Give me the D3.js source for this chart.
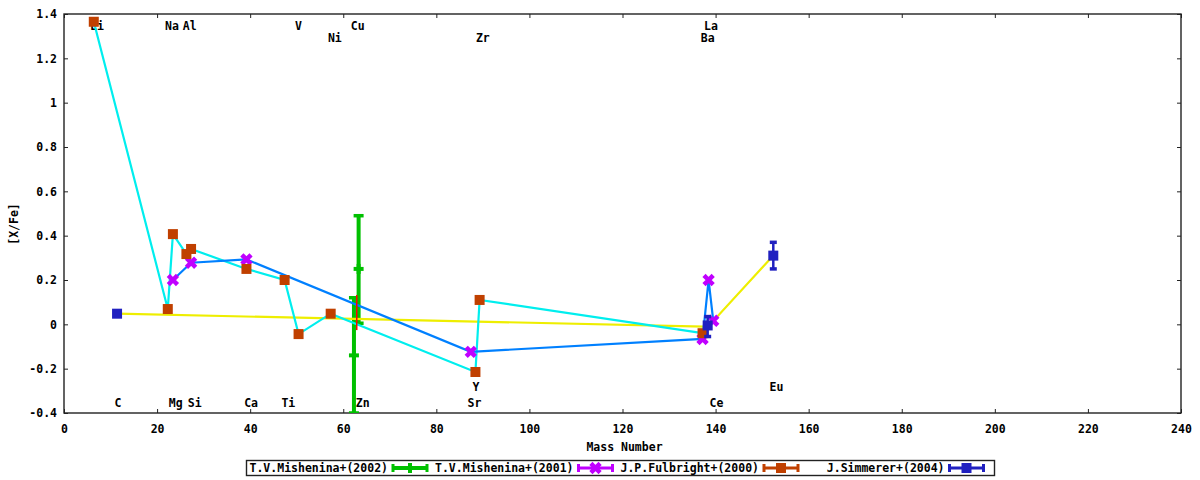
<!DOCTYPE html>
<html>
<head>
<meta charset="utf-8">
<script src="https://cdn.jsdelivr.net/npm/d3@7"></script>
<style>
  body { margin: 0; background: #fff; }
  svg text { font-family: 'DejaVu Sans Mono', monospace; font-weight: bold; font-size: 11.5px; fill: #000; }
</style>
</head>
<body>
<div id="chart"></div>
<script>
var xTicks = [0, 20, 40, 60, 80, 100, 120, 140, 160, 180, 200, 220, 240];
var yTicks = [-0.4, -0.2, 0, 0.2, 0.4, 0.6, 0.8, 1, 1.2, 1.4];

// T.V.Mishenina+(2002)
var mish02X = [62.3, 63.3];
var mish02Y = [-0.14, 0.25];
var mish02Lo = [-0.40, 0.005];
var mish02Hi = [0.12, 0.49];

// T.V.Mishenina+(2001)
var mish01X = [23.4, 27.3, 39.2, 87.4, 137.2, 138.5, 139.5];
var mish01Y = [0.20, 0.278, 0.293, -0.124, -0.066, 0.20, 0.016];

// J.P.Fulbright+(2000)
var fulbX = [6.4, 22.3, 23.4, 26.3, 27.3, 39.2, 47.4, 50.4, 57.3, 88.4, 89.3, 137.2];
var fulbY = [1.365, 0.069, 0.407, 0.317, 0.34, 0.25, 0.20, -0.044, 0.048, -0.215, 0.11, -0.04];

// J.Simmerer+(2004)
var simmX = [11.4, 138.3, 152.4];
var simmY = [0.048, -0.005, 0.31];
var simmLo = [0.048, -0.055, 0.25];
var simmHi = [0.048, 0.035, 0.37];

// yellow model line
var yellowX = [11.4, 137.5, 139.7, 152.4];
var yellowY = [0.048, -0.01, 0.02, 0.31];

// short red bar
var redX = [62.9];
var redLo = [-0.026];
var redHi = [0.132];

// element labels
var topNames = ['Li', 'Na', 'Al', 'V', 'Cu', 'Ni', 'Zr', 'La', 'Ba'];
var topX = [7.1, 23.2, 27, 50.4, 63.1, 58.2, 90, 139, 138.3];
var topY = [1.345, 1.345, 1.345, 1.345, 1.345, 1.29, 1.29, 1.345, 1.29];
var botNames = ['C', 'Mg', 'Si', 'Ca', 'Ti', 'Zn', 'Sr', 'Y', 'Ce', 'Eu'];
var botX = [11.6, 24, 28.1, 40.2, 48.2, 64.2, 88.2, 88.5, 140.2, 153.1];
var botY = [-0.355, -0.355, -0.355, -0.355, -0.355, -0.355, -0.355, -0.283, -0.355, -0.283];

var legendNames = ['T.V.Mishenina+(2002)', 'T.V.Mishenina+(2001)', 'J.P.Fulbright+(2000)', 'J.Simmerer+(2004)'];

var colors = {
  green: '#00c000',
  magenta: '#c000ff',
  orange: '#c04000',
  navy: '#2020c0',
  cyan: '#00eeee',
  blue: '#0080ff',
  yellow: '#eeee00',
  red: '#ff0000'
};

var width = 1200;
var height = 480;
var plot = {left: 64, right: 1181, top: 14, bottom: 413};

var svg = d3.select('#chart').append('svg')
  .attr('width', width)
  .attr('height', height)
  .attr('viewBox', '0 0 ' + width + ' ' + height);

var x = d3.scaleLinear().domain([0, 240]).range([plot.left, plot.right]);
var y = d3.scaleLinear().domain([-0.4, 1.4]).range([plot.bottom, plot.top]);

svg.append('defs').append('clipPath')
  .attr('id', 'plotClip')
  .append('rect')
  .attr('x', plot.left)
  .attr('y', plot.top)
  .attr('width', plot.right - plot.left)
  .attr('height', plot.bottom - plot.top);

function fmt(d) {
  return String(+d.toFixed(1));
}

function styleAxis(g) {
  g.attr('font-family', null).attr('font-size', null);
  g.select('.domain').remove();
  g.selectAll('.tick line').attr('stroke', '#222');
}

svg.append('g')
  .attr('transform', 'translate(0,' + plot.bottom + ')')
  .call(d3.axisBottom(x).tickValues(xTicks).tickFormat(fmt).tickSizeInner(-4).tickSizeOuter(0).tickPadding(12))
  .call(styleAxis);
svg.append('g')
  .attr('transform', 'translate(0,' + plot.top + ')')
  .call(d3.axisTop(x).tickValues(xTicks).tickFormat('').tickSizeInner(-4).tickSizeOuter(0))
  .call(styleAxis);
svg.append('g')
  .attr('transform', 'translate(' + plot.left + ',0)')
  .call(d3.axisLeft(y).tickValues(yTicks).tickFormat(fmt).tickSizeInner(-4).tickSizeOuter(0).tickPadding(7))
  .call(styleAxis);
svg.append('g')
  .attr('transform', 'translate(' + plot.right + ',0)')
  .call(d3.axisRight(y).tickValues(yTicks).tickFormat('').tickSizeInner(-4).tickSizeOuter(0))
  .call(styleAxis);

svg.append('rect')
  .attr('x', plot.left)
  .attr('y', plot.top)
  .attr('width', plot.right - plot.left)
  .attr('height', plot.bottom - plot.top)
  .attr('fill', 'none')
  .attr('stroke', '#222')
  .attr('stroke-width', 1.4);

svg.append('text')
  .attr('x', (plot.left + plot.right) / 2 + 2)
  .attr('y', 447)
  .attr('dy', '0.35em')
  .attr('text-anchor', 'middle')
  .text('Mass Number');

svg.append('text')
  .attr('transform', 'translate(14,' + 224 + ') rotate(-90)')
  .attr('dy', '0.35em')
  .attr('text-anchor', 'middle')
  .text('[X/Fe]');

// element labels
function drawNames(names, xs, ys) {
  svg.append('g').selectAll('text')
    .data(names)
    .enter()
    .append('text')
    .attr('x', function (d, i) { return x(xs[i]); })
    .attr('y', function (d, i) { return y(ys[i]); })
    .attr('dy', '0.35em')
    .attr('text-anchor', 'middle')
    .text(function (d) { return d; });
}
drawNames(topNames, topX, topY);
drawNames(botNames, botX, botY);

var data = svg.append('g').attr('clip-path', 'url(#plotClip)');

// marker helpers (pixel coords)
function errBar(g, px, pLo, pHi, color, lw, capHalf, capW) {
  g.append('line')
    .attr('x1', px).attr('x2', px)
    .attr('y1', pLo).attr('y2', pHi)
    .attr('stroke', color).attr('stroke-width', lw);
  [pLo, pHi].forEach(function (py) {
    g.append('line')
      .attr('x1', px - capHalf).attr('x2', px + capHalf)
      .attr('y1', py).attr('y2', py)
      .attr('stroke', color).attr('stroke-width', capW);
  });
}

function plusMark(g, px, py, color) {
  g.append('line')
    .attr('x1', px - 5).attr('x2', px + 5)
    .attr('y1', py).attr('y2', py)
    .attr('stroke', color).attr('stroke-width', 4);
  g.append('line')
    .attr('x1', px).attr('x2', px)
    .attr('y1', py - 5).attr('y2', py + 5)
    .attr('stroke', color).attr('stroke-width', 4);
}

function crossMark(g, px, py, color) {
  g.append('path')
    .attr('d', 'M' + (px - 3) + ',' + (py - 3) + 'L' + (px + 3) + ',' + (py + 3) +
      'M' + (px - 3) + ',' + (py + 3) + 'L' + (px + 3) + ',' + (py - 3))
    .attr('stroke', color).attr('stroke-width', 4.5).attr('stroke-linecap', 'square');
}

function squareMark(g, px, py, color) {
  g.append('rect')
    .attr('x', px - 5).attr('y', py - 5)
    .attr('width', 10).attr('height', 10)
    .attr('fill', color);
}

// T.V.Mishenina+(2002) error bars
mish02X.forEach(function (d, i) {
  errBar(data, x(d), y(mish02Lo[i]), y(mish02Hi[i]), colors.green, 4, 5, 3.5);
  plusMark(data, x(d), y(mish02Y[i]), colors.green);
});

// connecting lines
var line = d3.line()
  .x(function (d) { return x(d[0]); })
  .y(function (d) { return y(d[1]); });

function drawLine(xs, ys, color) {
  data.append('path')
    .datum(d3.zip(xs, ys))
    .attr('d', line)
    .attr('fill', 'none')
    .attr('stroke', color)
    .attr('stroke-width', 2.2);
}
drawLine(yellowX, yellowY, colors.yellow);
drawLine(fulbX, fulbY, colors.cyan);
drawLine(mish01X, mish01Y, colors.blue);

redX.forEach(function (d, i) {
  data.append('line')
    .attr('x1', x(d)).attr('x2', x(d))
    .attr('y1', y(redLo[i])).attr('y2', y(redHi[i]))
    .attr('stroke', colors.red).attr('stroke-width', 1.5);
});

// T.V.Mishenina+(2001)
mish01X.forEach(function (d, i) {
  crossMark(data, x(d), y(mish01Y[i]), colors.magenta);
});

// J.P.Fulbright+(2000)
fulbX.forEach(function (d, i) {
  squareMark(data, x(d), y(fulbY[i]), colors.orange);
});

// J.Simmerer+(2004)
simmX.forEach(function (d, i) {
  if (simmHi[i] > simmLo[i]) {
    errBar(data, x(d), y(simmLo[i]), y(simmHi[i]), colors.navy, 2.5, 3.5, 3.5);
  }
  squareMark(data, x(d), y(simmY[i]), colors.navy);
});

// legend
var legend = svg.append('g');
legend.append('rect')
  .attr('x', 246.5).attr('y', 460.5)
  .attr('width', 748).attr('height', 15)
  .attr('fill', '#fff')
  .attr('stroke', '#222')
  .attr('stroke-width', 1.4);

var legendColors = [colors.green, colors.magenta, colors.orange, colors.navy];
var legendMarks = [plusMark, crossMark, squareMark, squareMark];
var colStep = 185.5;
var ly = 468;

legendNames.forEach(function (name, i) {
  var x0 = 388 + i * colStep;
  legend.append('text')
    .attr('x', x0)
    .attr('y', ly)
    .attr('dy', '0.35em')
    .attr('text-anchor', 'end')
    .text(name);
  var sx1 = x0 + 5;
  var sx2 = x0 + 39;
  var c = legendColors[i];
  legend.append('line')
    .attr('x1', sx1).attr('x2', sx2)
    .attr('y1', ly).attr('y2', ly)
    .attr('stroke', c).attr('stroke-width', i === 0 ? 4 : 3);
  [sx1, sx2].forEach(function (sx) {
    legend.append('line')
      .attr('x1', sx).attr('x2', sx)
      .attr('y1', ly - 4).attr('y2', ly + 4)
      .attr('stroke', c).attr('stroke-width', 3);
  });
  legendMarks[i](legend, (sx1 + sx2) / 2, ly, c);
});
</script>
</body>
</html>
